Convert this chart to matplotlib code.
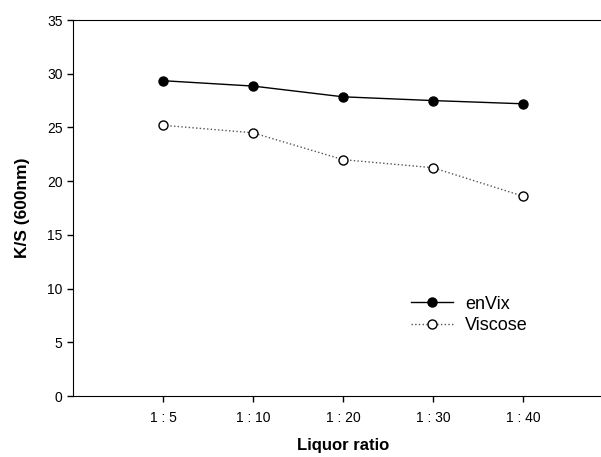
import matplotlib.pyplot as plt

plt.rcParams['font.family'] = ['Liberation Sans', 'DejaVu Sans']

# Data
ratios = ["1 : 5", "1 : 10", "1 : 20", "1 : 30", "1 : 40"]
envix = [29.35, 28.85, 27.85, 27.5, 27.2]
viscose = [25.2, 24.5, 22.0, 21.25, 18.6]

fig = plt.figure(figsize=(6.01, 4.57), dpi=100)
ax = fig.add_axes([73 / 601, 61 / 457, 540 / 601, 376 / 457])

pos = list(range(1, len(ratios) + 1))
ax.plot(pos, envix, '-', color='black', lw=1.0, marker='o', ms=6.5,
        mfc='black', mec='black', label='enVix')
ax.plot(pos, viscose, ':', color='#555555', lw=1.0, marker='o', ms=6.5,
        mfc='white', mec='black', label='Viscose')

ax.set_xlim(0, 6)
ax.set_ylim(0, 35)
ax.set_xticks(pos)
ax.set_xticklabels(ratios)
ax.set_yticks(range(0, 36, 5))
ax.spines['right'].set_visible(False)
ax.tick_params(direction='out', length=4, width=1, labelsize=10)
ax.tick_params(axis='x', pad=7)

ax.set_ylabel("K/S (600nm)", fontsize=12.5, fontweight='bold', labelpad=12)
ax.set_xlabel("Liquor ratio", fontsize=12, fontweight='bold', labelpad=9)

ax.legend(loc='upper left', bbox_to_anchor=(0.596, 0.31), frameon=False,
          fontsize=13, handlelength=2.3, handletextpad=0.7, labelspacing=0.25)

fig.savefig("out.png", dpi=100)
